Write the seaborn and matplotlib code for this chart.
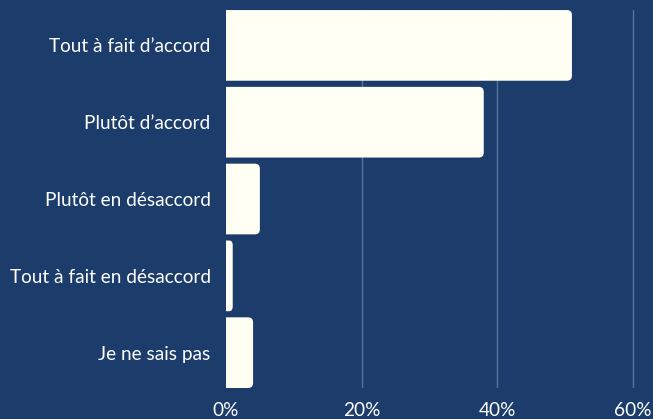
import matplotlib
matplotlib.use("Agg")
import matplotlib.pyplot as plt
import seaborn as sns
import pandas as pd
from matplotlib.patches import PathPatch
from matplotlib.path import Path

categories = ["Tout à fait d’accord", "Plutôt d’accord", "Plutôt en désaccord",
              "Tout à fait en désaccord", "Je ne sais pas"]
values = [51, 38, 5, 1, 4]
xticks = [0, 20, 40, 60]
xticklabels = ["0%", "20%", "40%", "60%"]

BG = "#1c3d6b"
BAR = "#fffff3"
GRID = "#56719a"

sns.set_theme(style="dark")
plt.rcParams["font.family"] = ["Lato", "DejaVu Sans"]

df = pd.DataFrame({"cat": categories, "val": values})
fig = plt.figure(figsize=(6.53, 4.19), dpi=100, facecolor=BG)
ax = fig.add_axes([0.346, 0.074, 0.6265, 0.902])
ax.set_facecolor(BG)
ax.set_axisbelow(True)
sns.barplot(data=df, x="val", y="cat", color=BAR, saturation=1, width=0.92, ax=ax, zorder=3)
ax.set_xlim(0, 60.3)
ax.set_ylim(4.46, -0.46)
ax.set_xticks(xticks)
ax.set_xticklabels(xticklabels)
ax.set_xlabel("")
ax.set_ylabel("")
for s in ax.spines.values():
    s.set_visible(False)
ax.grid(axis="x", color=GRID, linewidth=1)
ax.grid(axis="y", visible=False)
ax.xaxis.get_gridlines()[0].set_visible(False)
ax.tick_params(axis="x", colors="white", labelsize=13.7, length=0, pad=10)
ax.tick_params(axis="y", colors="white", labelsize=13.7, length=0, pad=11)

# rounded right corners (left side square)
fig.canvas.draw()
px_per_x = ax.transData.transform((1, 0))[0] - ax.transData.transform((0, 0))[0]
px_per_y = abs(ax.transData.transform((0, 1))[1] - ax.transData.transform((0, 0))[1])
r_px = 5.0
for p in list(ax.patches):
    x, y = p.get_x(), p.get_y()
    w, h = p.get_width(), p.get_height()
    p.set_visible(False)
    rx = min(r_px / px_per_x, w / 2)
    ry = r_px / px_per_y
    verts = [(x, y), (x + w - rx, y), (x + w, y), (x + w, y + ry),
             (x + w, y + h - ry), (x + w, y + h), (x + w - rx, y + h),
             (x, y + h), (x, y)]
    codes = [Path.MOVETO, Path.LINETO, Path.CURVE3, Path.CURVE3,
             Path.LINETO, Path.CURVE3, Path.CURVE3, Path.LINETO, Path.CLOSEPOLY]
    ax.add_patch(PathPatch(Path(verts, codes), facecolor=BAR, edgecolor="none", zorder=3))

fig.savefig("out.png", dpi=100, facecolor=BG)
